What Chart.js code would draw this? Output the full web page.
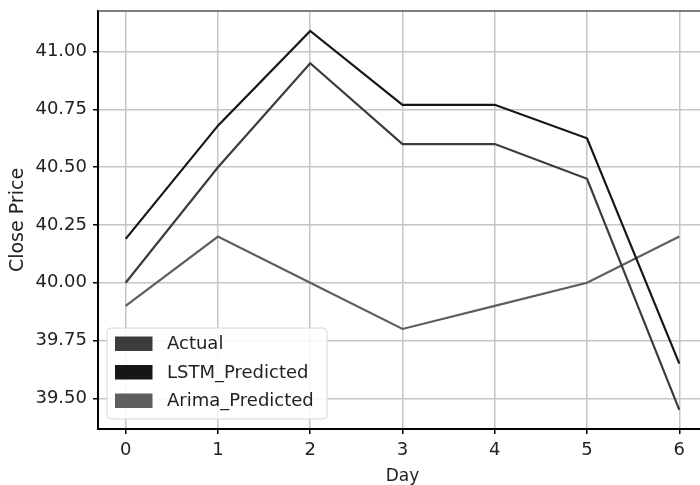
<!DOCTYPE html>
<html>
<head>
<meta charset="utf-8">
<script src="https://cdn.jsdelivr.net/npm/chart.js@4.4.1/dist/chart.umd.min.js"></script>
<style>
  html, body { margin: 0; padding: 0; background: #fff; overflow: hidden; }
  #wrap { width: 720px; height: 485px; position: relative; }
</style>
</head>
<body>
<div id="wrap"><canvas id="lineChart"></canvas></div>
<script>
// values
var days = [0, 1, 2, 3, 4, 5, 6];
var actual = [40.00, 40.50, 40.95, 40.60, 40.60, 40.45, 39.45];
var lstm_predicted = [40.19, 40.68, 41.09, 40.77, 40.77, 40.625, 39.65];
var arima_predicted = [39.90, 40.20, 40.00, 39.80, 39.90, 40.00, 40.20];
var y_ticks = [39.50, 39.75, 40.00, 40.25, 40.50, 40.75, 41.00];
var series_names = ["Actual", "LSTM_Predicted", "Arima_Predicted"];
var series_colors = ["#3c3c3c", "#161616", "#5e5e5e"];

function toPoints(arr) {
  return arr.map(function(v, i) { return {x: days[i], y: v}; });
}

var fontFam = "'DejaVu Sans', sans-serif";

// top spine + legend box in lower-left of the plot
var framePlugin = {
  id: 'frame',
  afterDraw: function(chart) {
    var ctx = chart.ctx, a = chart.chartArea;
    ctx.save();
    ctx.strokeStyle = '#555';
    ctx.lineWidth = 1.5;
    ctx.beginPath();
    ctx.moveTo(a.left, a.top);
    ctx.lineTo(a.right, a.top);
    ctx.stroke();

    // legend
    var dsets = chart.data.datasets;
    var bx = a.left + 9, bw = 220, bh = 91;
    var by = a.bottom - 10 - bh;
    ctx.fillStyle = 'rgba(255,255,255,0.85)';
    ctx.strokeStyle = '#d6d6d6';
    ctx.lineWidth = 1;
    ctx.beginPath();
    ctx.roundRect(bx, by, bw, bh, 4);
    ctx.fill();
    ctx.stroke();
    ctx.font = "18px " + fontFam;
    ctx.textBaseline = 'middle';
    for (var i = 0; i < dsets.length; i++) {
      var cy = by + 15.5 + i * 28.5;
      ctx.fillStyle = dsets[i].borderColor;
      ctx.fillRect(bx + 8, cy - 7, 37.5, 14.5);
      ctx.fillStyle = '#222';
      ctx.fillText(dsets[i].label, bx + 60, cy + 1);
    }
    ctx.restore();
  }
};

var ctxL = document.getElementById('lineChart').getContext('2d');
var myLineChart = new Chart(ctxL, {
  type: 'line',
  data: {
    datasets: [
      {label: series_names[0], data: toPoints(actual), borderColor: series_colors[0], borderWidth: 2.2},
      {label: series_names[1], data: toPoints(lstm_predicted), borderColor: series_colors[1], borderWidth: 2.2},
      {label: series_names[2], data: toPoints(arima_predicted), borderColor: series_colors[2], borderWidth: 2.2}
    ]
  },
  options: {
    responsive: true,
    maintainAspectRatio: false,
    animation: false,
    layout: { padding: { top: 11, right: 13, left: 0, bottom: 0 } },
    elements: { point: { radius: 0 }, line: { tension: 0 } },
    plugins: { legend: { display: false }, tooltip: { enabled: false } },
    scales: {
      x: {
        type: 'linear',
        min: -0.3,
        max: 6.3,
        afterBuildTicks: function(scale) {
          scale.ticks = days.map(function(v) { return {value: v}; });
        },
        afterFit: function(scale) {
          scale.height = 56;
          scale.paddingLeft = 0;
          scale.paddingRight = 0;
        },
        grid: { color: '#c6c6c6', lineWidth: 1.5, tickColor: '#000', tickLength: 5, tickWidth: 1.5 },
        border: { color: '#000', width: 2 },
        ticks: {
          color: '#222', padding: 6, maxRotation: 0,
          font: { family: fontFam, size: 18 },
          callback: function(v) { return String(v); }
        },
        title: {
          display: true, text: 'Day', color: '#222',
          font: { family: fontFam, size: 17, lineHeight: 1 },
          padding: { top: 0, bottom: 0 }
        }
      },
      y: {
        min: 39.367,
        max: 41.176,
        afterBuildTicks: function(scale) {
          scale.ticks = y_ticks.map(function(v) { return {value: v}; });
        },
        afterFit: function(scale) {
          scale.width = 98;
          scale.paddingTop = 0;
          scale.paddingBottom = 0;
        },
        grid: { color: '#c6c6c6', lineWidth: 1.5, tickColor: '#000', tickLength: 5, tickWidth: 1.5 },
        border: { color: '#000', width: 2 },
        ticks: {
          color: '#222', padding: 6,
          font: { family: fontFam, size: 18 },
          callback: function(v) { return Number(v).toFixed(2); }
        },
        title: {
          display: true, text: 'Close Price', color: '#222',
          font: { family: fontFam, size: 19, lineHeight: 1.2 },
          padding: { top: 6.5, bottom: 0 }
        }
      }
    }
  },
  plugins: [framePlugin]
});
</script>
</body>
</html>
